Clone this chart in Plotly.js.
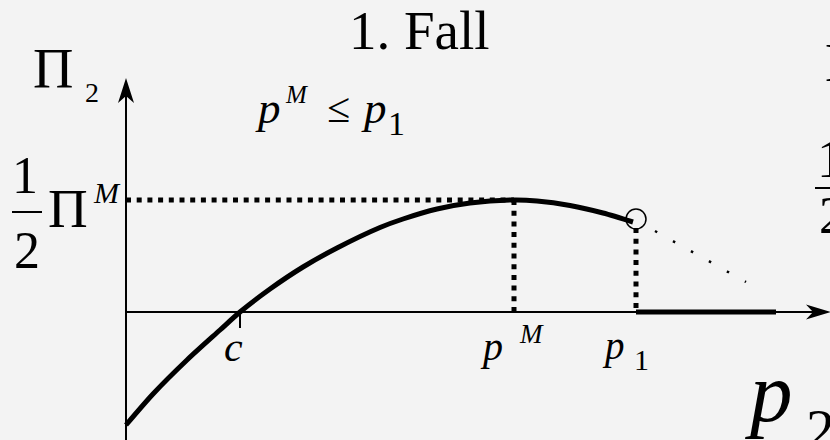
<!DOCTYPE html>
<html>
<head>
<meta charset="utf-8">
<script src="https://cdn.plot.ly/plotly-3.0.1.min.js"></script>
<style>html,body{margin:0;padding:0;background:#f3f3f3;}#chart{width:830px;height:440px;}</style>
</head>
<body>
<div id="chart"></div>
<script>
// ---- data (units: price p on x, profit Π2 on y) ----
const c = 1.14;          // marginal cost
const pM = 3.88;         // monopoly price
const p1 = 5.10;         // rival's price
const halfPiM = 1.12;    // ½ Π^M
const pEnd = 6.50;       // end of zero-profit segment
const openY = 0.93;      // open circle at p1
const curveX = [0, 0.27, 0.61, 0.94, 1.14, 1.44, 1.77, 2.11, 2.54, 2.77, 3.11, 3.44, 3.88, 4.11, 4.44, 4.77, 5.07];
const curveY = [-1.13, -0.82, -0.48, -0.18, 0, 0.23, 0.45, 0.64, 0.845, 0.93, 1.03, 1.09, 1.12, 1.11, 1.065, 0.99, 0.90];
const trailX = [5.29, 6.20];
const trailY = [0.81, 0.30];
const p1DotTop = 0.84;
const xAxisEnd = 7.05, yAxisTop = 2.34, yAxisBottom = -1.30, cTickLen = 0.16;

// ---- layout helpers ----
const W = 830, H = 440;
const xr = [-1.26, 7.04], yr = [-1.28, 3.12];
const FONT = 'Liberation Serif, Times New Roman, serif';
const black = '#000';

function line(x, y, width, dash) {
  return {x: x, y: y, mode: 'lines', type: 'scatter', hoverinfo: 'skip',
          line: {color: black, width: width, dash: dash || 'solid'}};
}
const traces = [
  line([0, 0], [yAxisBottom, yAxisTop - 0.15], 2),
  line([0, xAxisEnd - 0.15], [0, 0], 2),
  line([c, c], [0, -cTickLen], 2),
  line([0, pM], [halfPiM, halfPiM], 5, '5px,5.7px'),
  line([pM, pM], [halfPiM, 0], 5, '5px,5.7px'),
  line([p1, p1], [p1DotTop, 0], 5, '5px,5.7px'),
  line(trailX, trailY, 2.5, '2.5px,18.1px'),
  line([p1, pEnd], [0, 0], 5),
  Object.assign(line(curveX, curveY, 5), {line: {color: black, width: 5, shape: 'spline', smoothing: 0.8}}),
  {x: [p1], y: [openY], mode: 'markers', type: 'scatter', hoverinfo: 'skip',
   marker: {symbol: 'circle-open', size: 20, color: black, line: {width: 1.5, color: black}}}
];

// arrowheads (stealth shape), sizes in px converted to data units (100 px per unit)
function arrowPath(tx, ty, dir) {
  const L = 0.25, Wd = 0.08, N = 0.07;
  let pts;
  if (dir === 'up') pts = [[tx, ty], [tx - Wd, ty - L], [tx, ty - L + N], [tx + Wd, ty - L]];
  else pts = [[tx, ty], [tx - L, ty + Wd*0.95], [tx - L + N, ty], [tx - L, ty - Wd*0.95]];
  return 'M' + pts.map(p => p[0] + ',' + p[1]).join(' L') + ' Z';
}

const shapes = [
  {type: 'path', xref: 'x', yref: 'y', path: arrowPath(0, yAxisTop, 'up'), fillcolor: black, line: {width: 0}},
  {type: 'path', xref: 'x', yref: 'y', path: arrowPath(xAxisEnd, 0, 'right'), fillcolor: black, line: {width: 0}},
  // fraction bars
  {type: 'line', xref: 'paper', yref: 'paper', x0: 12/W, x1: 42/W, y0: 1-212/H, y1: 1-212/H, line: {color: black, width: 2}},
  {type: 'line', xref: 'paper', yref: 'paper', x0: 815/W, x1: 845/W, y0: 1-188/H, y1: 1-188/H, line: {color: black, width: 2}}
];

// label: pixel x (anchor), pixel baseline, font size
function lab(text, x, base, fs, anchor) {
  return {text: text, xref: 'paper', yref: 'paper', x: x / W, y: 1 - (base - 0.891 * fs) / H,
          xanchor: anchor || 'left', yanchor: 'top', showarrow: false,
          borderpad: 0, borderwidth: 0, font: {family: FONT, size: fs, color: black}};
}
const annotations = [
  lab('1. Fall', 419, 49, 55, 'center'),
  lab('Π', 33, 88, 56), lab('2', 85, 102, 28),
  lab('1', 25, 193, 52, 'center'), lab('2', 27, 268, 52, 'center'),
  lab('Π', 48, 227, 55), lab('<i>M</i>', 93, 203, 30),
  lab('<i>p</i>', 255, 123, 45), lab('<i>M</i>', 285, 103, 25),
  lab('≤', 338.5, 122, 42, 'center'),
  lab('<i>p</i>', 361, 123, 45), lab('1', 396, 135, 34, 'center'),
  lab('<i>c</i>', 233.5, 361, 42, 'center'),
  lab('<i>p</i>', 480, 360, 40), lab('<i>M</i>', 519, 343, 27),
  lab('<i>p</i>', 602, 359, 39), lab('1', 641, 370, 30, 'center'),
  lab('<i>p</i>', 745, 421, 85), lab('2', 806, 449, 58),
  lab('Π', 825, 81, 54),
  lab('1', 817, 177, 54), lab('2', 819, 233, 52)
];

const layout = {
  width: W, height: H, margin: {l: 0, r: 0, t: 0, b: 0},
  paper_bgcolor: '#f3f3f3', plot_bgcolor: '#f3f3f3', showlegend: false,
  xaxis: {visible: false, range: xr, fixedrange: true},
  yaxis: {visible: false, range: yr, fixedrange: true},
  shapes: shapes, annotations: annotations
};
Plotly.newPlot('chart', traces, layout, {displayModeBar: false, staticPlot: true});
</script>
</body>
</html>
